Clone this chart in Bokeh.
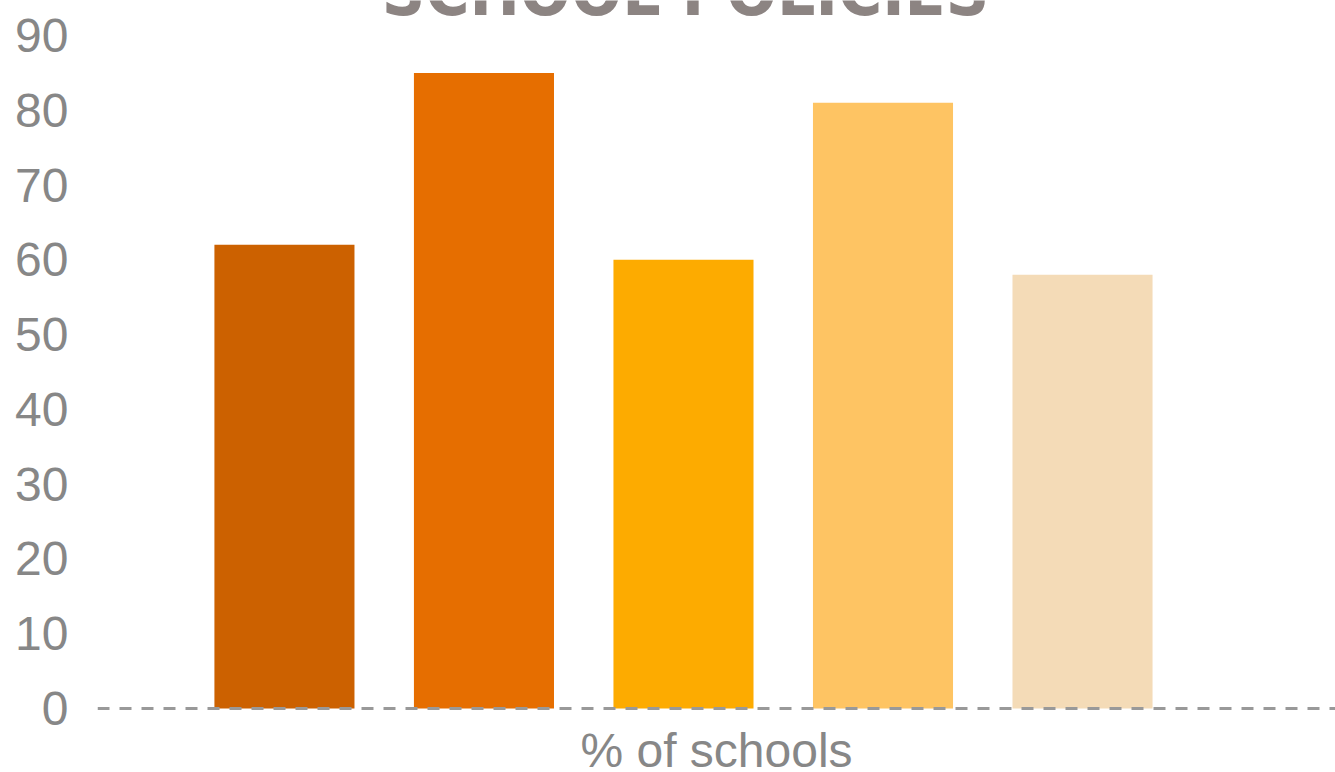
from bokeh.plotting import figure
from bokeh.models import ColumnDataSource, Range1d, FixedTicker, Span, Label
from bokeh.embed import file_html
from bokeh.resources import INLINE

# ---- data ----
title_text = "SCHOOL POLICIES"
category = "% of schools"
series_index = [0, 1, 2, 3, 4]
values = [62, 85, 60, 81, 58]
colors = ["#CC6100", "#E66E00", "#FDAB00", "#FEC463", "#F4DBB7"]
y_ticks = [0, 10, 20, 30, 40, 50, 60, 70, 80, 90]

source = ColumnDataSource(dict(x=series_index, top=values, color=colors))

p = figure(width=1335, height=772, output_backend="svg", toolbar_location=None,
           x_range=Range1d(-0.937, 5.268), y_range=Range1d(-8.56, 94.68),
           min_border_left=97, min_border_right=0, min_border_top=0, min_border_bottom=0)

p.vbar(x="x", top="top", bottom=0, width=0.702, color="color", source=source, line_color=None)

p.add_layout(Span(location=0, dimension="width", line_color="#999999", line_width=3,
                  line_dash="12 10"))

p.xaxis.visible = False
p.xgrid.visible = False
p.ygrid.visible = False
p.outline_line_color = None
p.background_fill_color = "white"
p.border_fill_color = "white"

ya = p.yaxis[0]
ya.ticker = FixedTicker(ticks=y_ticks)
ya.axis_line_color = None
ya.major_tick_line_color = None
ya.minor_tick_line_color = None
ya.major_label_text_font = "Liberation Sans"
ya.major_label_text_font_size = "48px"
ya.major_label_text_color = "#878787"
ya.major_label_standoff = 23

xr = p.x_range
p.add_layout(Label(x=(xr.start + xr.end) / 2, y=-5.62, text=category,
                   text_align="center", text_baseline="alphabetic",
                   text_font="Liberation Sans", text_font_size="48px",
                   text_color="#878787"))

p.add_layout(Label(x=2.01, y=95.88, text=title_text,
                   text_align="center", text_baseline="alphabetic",
                   text_font="Liberation Sans Narrow, DejaVu Sans Condensed, sans-serif",
                   text_font_style="bold", text_font_size="67px",
                   text_color="#8C8482"))

open("out.html", "w").write(file_html(p, INLINE))
